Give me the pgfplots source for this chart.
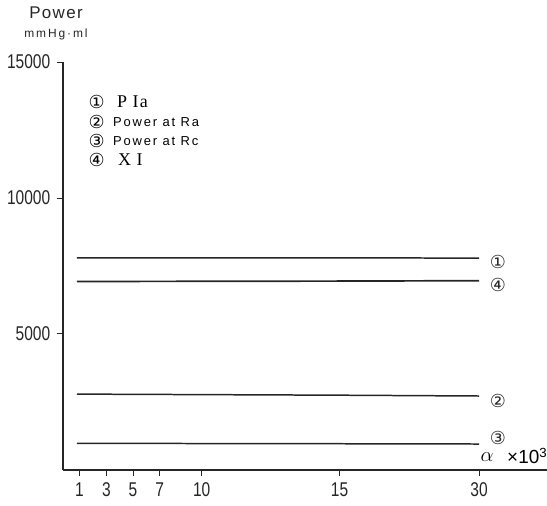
\documentclass[border=0pt]{standalone}
\usepackage{pgfplots}
\pgfplotsset{compat=1.18}
\usepackage{fontspec}
\setmainfont{Liberation Sans}
\newfontfamily\tickfont[FakeStretch=0.78]{Liberation Sans}
\newfontfamily\spacedfont[LetterSpace=14]{Liberation Sans}
\newfontfamily\titlefont[LetterSpace=8]{Liberation Sans}
\newfontfamily\unitfont[LetterSpace=16]{Liberation Sans}
\newfontfamily\serifspaced[LetterSpace=6]{Liberation Serif}
\newfontfamily\symfont{DejaVu Sans}

\begin{document}
\begin{tikzpicture}
\begin{axis}[
  x=1bp, y=0.0272bp,
  xmin=62.8, xmax=547, ymin=0, ymax=15000,
  axis lines=left,
  axis line style={-, line width=1.7pt, black!85},
  clip=false,
  scaled y ticks=false,
  tick align=outside,
  major tick length=6bp,
  tick style={line width=1pt, black!85},
  xtick={79.5,106.4,133,159.8,201.7,339.5,479},
  xticklabels={1,3,5,7,10,15,30},
  ytick={5000,10000,15000},
  yticklabels={5000,10000,15000},
  /pgf/number format/assume math mode=true,
  tick label style={font=\tickfont\fontsize{20}{20}\selectfont, text=black!85},
  xticklabel style={yshift=-3bp},
  yticklabel style={xshift=-3bp},
]
% series (x in axis position units, y in mmHg.ml)
\addplot[black!85, line width=1.5pt] coordinates {(77,7800)(339.5,7800)(479,7790)};
\addplot[black!85, line width=1.7pt] coordinates {(77,6930)(339.5,6945)(479,6960)};
\addplot[black!85, line width=1.5pt] coordinates {(77,2790)(339.5,2750)(479,2720)};
\addplot[black!85, line width=1.5pt] coordinates {(77,980)(339.5,965)(479,955)};

% titles
\node[font=\titlefont\fontsize{17}{17}\selectfont, text=black!85] at (axis cs:56,16801) {Power};
\node[font=\unitfont\fontsize{12}{12}\selectfont, text=black!85] at (axis cs:56,16029) {mmHg·ml};

% legend block
\node[font=\symfont\fontsize{18}{18}\selectfont] at (axis cs:96.7,13530) {①};
\node[font=\symfont\fontsize{18}{18}\selectfont] at (axis cs:96.7,12794) {②};
\node[font=\symfont\fontsize{18}{18}\selectfont] at (axis cs:96.7,12096) {③};
\node[font=\symfont\fontsize{18}{18}\selectfont] at (axis cs:96.7,11397) {④};
\node[anchor=west, inner sep=0pt, font=\serifspaced\fontsize{18}{18}\selectfont] at (axis cs:117,13530) {P Ia};
\node[anchor=west, inner sep=0pt, font=\spacedfont\fontsize{13}{13}\selectfont] at (axis cs:113,12794) {Power at Ra};
\node[anchor=west, inner sep=0pt, font=\spacedfont\fontsize{13}{13}\selectfont] at (axis cs:113,12096) {Power at Rc};
\node[anchor=west, inner sep=0pt, font=\serifspaced\fontsize{18}{18}\selectfont] at (axis cs:118,11397) {X I};

% line end labels
\node[font=\symfont\fontsize{18}{18}\selectfont, text=black!85] at (axis cs:498,7647) {①};
\node[font=\symfont\fontsize{18}{18}\selectfont, text=black!85] at (axis cs:498,6801) {④};
\node[font=\symfont\fontsize{18}{18}\selectfont, text=black!85] at (axis cs:498,2537) {②};
\node[font=\symfont\fontsize{18}{18}\selectfont, text=black!85] at (axis cs:498,1180) {③};
\node[inner sep=1pt, font=\fontsize{20}{20}\selectfont] at (axis cs:487,470) {$\alpha$};
\node[anchor=west, inner sep=0pt, font=\fontsize{19}{19}\selectfont] at (axis cs:507,510) {×10\textsuperscript{3}};

\coordinate (bl) at (axis cs:0,-1324);
\coordinate (tr) at (axis cs:547,17280);
\end{axis}
\pgfresetboundingbox
\path (bl) rectangle (tr);
\end{tikzpicture}
\end{document}
